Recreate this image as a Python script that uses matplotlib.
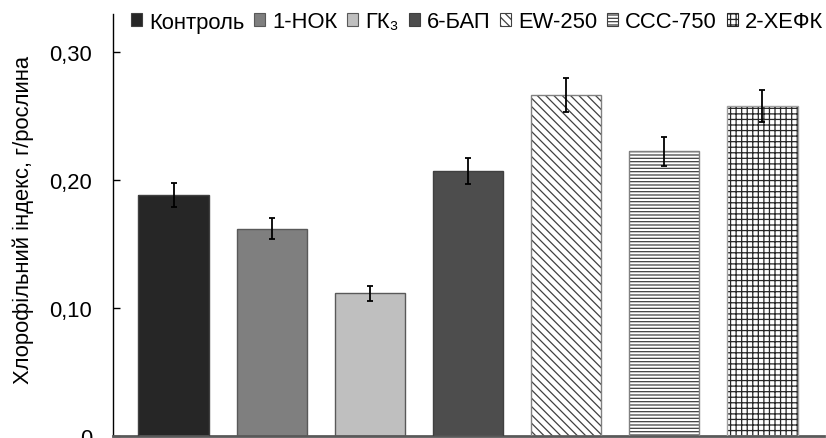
import matplotlib
matplotlib.use("Agg")
import matplotlib.pyplot as plt
from matplotlib.patches import Patch
import numpy as np

plt.rcParams['font.family'] = ['Liberation Sans', 'DejaVu Sans']
plt.rcParams['hatch.linewidth'] = 0.9

categories = ['Контроль', '1-НОК', 'ГК₃', '6-БАП', 'EW-250', 'CCC-750', '2-ХЕФК']
values = [0.188, 0.162, 0.1115, 0.207, 0.2664, 0.2224, 0.258]
errors = [0.0094, 0.0083, 0.0059, 0.0104, 0.0135, 0.0112, 0.0126]
yticks = [0, 0.10, 0.20, 0.30]
yticklabels = ['0', '0,10', '0,20', '0,30']

facecolors = ['#262626', '#7f7f7f', '#bfbfbf', '#4d4d4d', 'white', 'white', 'white']
hatches = [None, None, None, None, '\\\\\\\\', '-----', '+++']
hatchcolors = ['#595959', '#595959', '#595959', '#595959', '#404040', '#404040', '#262626']
outline = ['#404040', '#595959', '#595959', '#404040', '#808080', '#808080', '#a0a0a0']

FS = 15.8
W, H = 826, 439
fig = plt.figure(figsize=(W / 100, H / 100), dpi=100)
ax = fig.add_axes([113 / W, 2 / H, (824 - 113) / W, (437 - 15) / H])

x = np.arange(len(categories))
for i in range(len(categories)):
    ax.bar(x[i], values[i], width=0.72, color=facecolors[i],
           edgecolor=hatchcolors[i], hatch=hatches[i], linewidth=0, zorder=2)
    ax.bar(x[i], values[i], width=0.72, fill=False,
           edgecolor=outline[i], linewidth=1.0, zorder=3)
ax.errorbar(x, values, yerr=errors, fmt='none', ecolor='black',
            elinewidth=1.3, capsize=2, capthick=1.3, zorder=4)

ax.set_xlim(-0.62, 6.63)
ax.set_ylim(0, 0.3297)
ax.set_yticks(yticks)
ax.set_yticklabels(yticklabels)
ax.tick_params(axis='y', direction='in', length=5, width=1, pad=15, labelsize=FS)
ax.set_xticks([])
for s in ['top', 'right']:
    ax.spines[s].set_visible(False)
ax.spines['left'].set_color('black')
ax.spines['left'].set_linewidth(1)
ax.spines['bottom'].set_color('#595959')
ax.spines['bottom'].set_linewidth(2)

fig.text(23 / W, 219 / H, 'Хлорофільний індекс, г/рослина', rotation=90,
         ha='center', va='center', fontsize=FS)

handles = [Patch(facecolor=facecolors[i], edgecolor=hatchcolors[i] if hatches[i] else outline[i],
                 hatch=hatches[i], linewidth=0.8) for i in range(len(categories))]
fig.legend(handles, categories, loc='center left', bbox_to_anchor=(131 / W, 1 - 23 / H),
           ncol=7, frameon=False, fontsize=FS, handlelength=0.5, handleheight=0.5,
           handletextpad=0.33, columnspacing=0.44, borderpad=0, borderaxespad=0)

fig.savefig('out.png', dpi=100)
